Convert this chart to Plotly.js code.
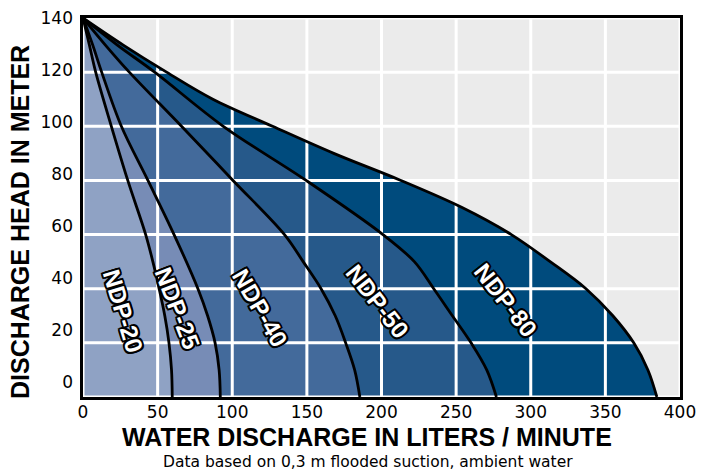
<!DOCTYPE html>
<html><head><meta charset="utf-8">
<script src="https://cdn.plot.ly/plotly-3.0.1.min.js"></script>
<style>html,body{margin:0;padding:0;background:#fff}#chart{width:715px;height:473px}</style>
</head><body><div id="chart"></div>
<script>
// ---- data ----
const models = ['NDP-20', 'NDP-25', 'NDP-40', 'NDP-50', 'NDP-80'];
const headNDP20 = [140, 130, 120, 100, 80, 60, 50, 40, 30, 20, 10, 0];
const flowNDP20 = [0, 4.3, 8.5, 19, 30, 42, 46.8, 51, 54.8, 57.6, 59.3, 59.8];
const headNDP25 = [140, 130, 120, 100, 80, 60, 40, 30, 20, 10, 0];
const flowNDP25 = [0, 6.5, 12.5, 25.7, 43.5, 61, 77, 83.5, 88.5, 91.2, 92];
const headNDP40 = [140, 130, 120, 100, 80, 60, 50, 40, 30, 20, 10, 0];
const flowNDP40 = [0, 15, 31, 66, 100.5, 135, 147.5, 159.5, 169, 176, 182, 185.5];
const headNDP50 = [140, 130, 120, 100, 80, 60, 50, 40, 30, 20, 10, 0];
const flowNDP50 = [0, 23, 48, 94, 149.5, 201, 222, 235, 247.5, 260, 270.5, 277];
const headNDP80 = [140, 130, 120, 110, 100, 90, 80, 70, 60, 50, 40, 30, 20, 10, 0];
const flowNDP80 = [0, 27, 56, 87, 127, 168, 213, 254, 287, 313, 337, 355, 369, 378.5, 384.5];
const xTicks = [0, 50, 100, 150, 200, 250, 300, 350, 400];
const yTicks = [0, 20, 40, 60, 80, 100, 120, 140];
const xTitle = 'WATER DISCHARGE IN LITERS / MINUTE';
const yTitle = 'DISCHARGE HEAD IN METER';
const note = 'Data based on 0,3 m flooded suction, ambient water';

// ---- styling ----
const series = [
  {name: models[0], x: flowNDP20, y: headNDP20, color: '#8fa2c4', lab: {x: 26.8, y: 32, a: 73}},
  {name: models[1], x: flowNDP25, y: headNDP25, color: '#778cb6', lab: {x: 63, y: 33, a: 69}},
  {name: models[2], x: flowNDP40, y: headNDP40, color: '#436a9b', lab: {x: 118.6, y: 33.2, a: 60}},
  {name: models[3], x: flowNDP50, y: headNDP50, color: '#26598a', lab: {x: 197.5, y: 35.4, a: 52}},
  {name: models[4], x: flowNDP80, y: headNDP80, color: '#004b7d', lab: {x: 283.4, y: 35.7, a: 52}}
];
const order = series.slice().reverse();
const traces = [];
order.forEach(s => traces.push({
  type: 'scatter', mode: 'lines', x: s.x, y: s.y, name: s.name,
  fill: 'tozerox', fillcolor: s.color,
  line: {shape: 'spline', smoothing: 1, width: 0, color: s.color},
  hoverinfo: 'skip', showlegend: false
}));
// grid drawn above fills, below curves
const gx = [], gy = [];
xTicks.forEach(v => { gx.push(v, v, null); gy.push(yTicks[0], yTicks[yTicks.length - 1], null); });
yTicks.forEach(v => { gx.push(xTicks[0], xTicks[xTicks.length - 1], null); gy.push(v, v, null); });
traces.push({type: 'scatter', mode: 'lines', x: gx, y: gy, line: {color: '#ffffff', width: 3},
  hoverinfo: 'skip', showlegend: false, connectgaps: false});
order.forEach(s => traces.push({
  type: 'scatter', mode: 'lines', x: s.x, y: s.y, name: s.name,
  line: {shape: 'spline', smoothing: 1, width: 2.8, color: '#000000'},
  hoverinfo: 'skip', showlegend: false
}));
traces.push({type: 'scatter', x: [], y: [], yaxis: 'y2', showlegend: false, hoverinfo: 'skip'});

const outline = '-1.7px -1.7px 0 #000, 1.7px -1.7px 0 #000, -1.7px 1.7px 0 #000, 1.7px 1.7px 0 #000, 0 1.9px 0 #000, 0 -1.9px 0 #000, 1.9px 0 0 #000, -1.9px 0 0 #000';
const annotations = series.map(s => ({
  x: s.lab.x, y: s.lab.y, xref: 'x', yref: 'y', text: s.name, showarrow: false,
  textangle: s.lab.a, xanchor: 'center', yanchor: 'middle',
  font: {family: 'Liberation Sans, Arial, sans-serif', size: 24, weight: 700, color: '#ffffff', shadow: outline}
}));
annotations.push({x: 0.4757, y: -0.1055, xref: 'paper', yref: 'paper', text: xTitle, showarrow: false,
  xanchor: 'center', yanchor: 'middle',
  font: {family: 'Liberation Sans, Arial, sans-serif', size: 25, weight: 700, color: '#000'}});
annotations.push({x: -0.1055, y: 0.4617, xref: 'paper', yref: 'paper', text: yTitle, showarrow: false,
  textangle: -90, xanchor: 'center', yanchor: 'middle',
  font: {family: 'Liberation Sans, Arial, sans-serif', size: 25, weight: 700, color: '#000'}});
annotations.push({x: 0.4774, y: -0.1715, xref: 'paper', yref: 'paper', text: note, showarrow: false,
  xanchor: 'center', yanchor: 'middle',
  font: {family: 'DejaVu Sans, sans-serif', size: 15.5, color: '#000'}});

const layout = {
  width: 715, height: 473,
  margin: {l: 83, r: 35, t: 18, b: 76, pad: 0},
  paper_bgcolor: '#ffffff', plot_bgcolor: '#ebebeb',
  font: {family: 'DejaVu Sans, sans-serif', size: 17, color: '#000'},
  showlegend: false,
  xaxis: {range: [0, 400], tickvals: xTicks, ticktext: xTicks.map(String), showgrid: false, zeroline: false,
    showline: true, mirror: true, linecolor: '#000', linewidth: 3, ticks: '', ticklabelstandoff: -2,
    tickfont: {size: 17, color: '#000'}, fixedrange: true},
  yaxis: {range: [0, 140], showgrid: false, zeroline: false, showticklabels: false,
    showline: true, mirror: true, linecolor: '#000', linewidth: 3, ticks: '', fixedrange: true},
  yaxis2: {overlaying: 'y', side: 'left', range: [-5.77, 140], tickvals: yTicks, ticktext: yTicks.map(String),
    showgrid: false, zeroline: false, showline: false, ticks: '', ticklabelstandoff: 9,
    tickfont: {size: 17, color: '#000'}, fixedrange: true},
  annotations: annotations
};
Plotly.newPlot('chart', traces, layout, {displayModeBar: false, staticPlot: true});
</script>
</body></html>
